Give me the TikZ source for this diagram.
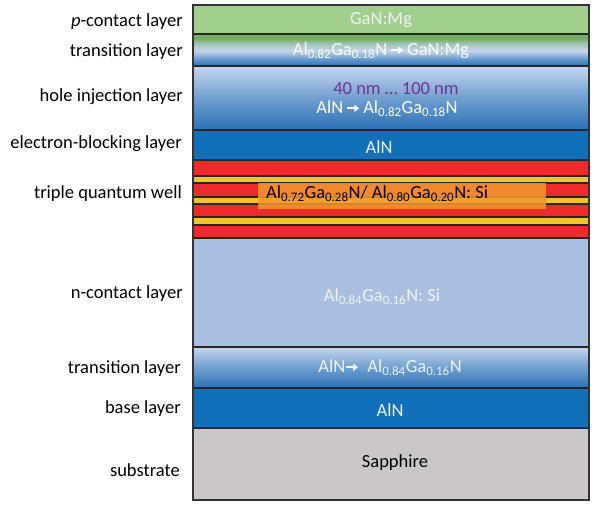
\documentclass[tikz,border=0pt]{standalone}
\usepackage{fontspec}
\setmainfont{Carlito}
\usetikzlibrary{arrows.meta}
\definecolor{gGreen}{HTML}{A1CF8D}
\definecolor{gGreenD}{HTML}{72AE62}
\definecolor{bDark}{HTML}{1170BA}
\definecolor{bMid}{HTML}{2A71B6}
\definecolor{bLight}{HTML}{C6D6EE}
\definecolor{nBlue}{HTML}{A8BFE0}
\definecolor{qRed}{HTML}{EE2B2B}
\definecolor{qYel}{HTML}{FBC12C}
\definecolor{qOra}{HTML}{F39A2E}
\definecolor{subGray}{HTML}{C9C7C8}
\definecolor{txPurple}{HTML}{6E3396}
\definecolor{txLight}{HTML}{EEF3F8}
\pgfdeclareverticalshading{transTop}{100bp}{color(0bp)=(bMid); color(25bp)=(bMid); color(36bp)=(bMid!60!bLight); color(49bp)=(bLight); color(60bp)=(gGreenD!45!bLight); color(68bp)=(gGreenD); color(100bp)=(gGreenD)}
\pgfdeclareverticalshading{transBlue}{100bp}{color(0bp)=(bMid); color(25bp)=(bMid); color(50bp)=(bLight!45!bMid); color(75bp)=(bLight); color(100bp)=(bLight)}
\newcommand{\lsub}[1]{\textsubscript{#1}}
\newcommand{\rarr}[1]{\tikz[baseline=0pt]\draw[#1,line width=1.8pt,-{Triangle[length=5pt,width=7pt]}](0pt,5.6pt)--(12pt,5.6pt);}
\tikzset{
  lab/.style={anchor=east,font=\fontsize{18.5}{20}\selectfont,text=black,inner sep=0pt},
  ltext/.style={font=\fontsize{18.5}{20}\selectfont,inner sep=0pt},
  sep/.style={line width=1.2pt,draw=black!85}
}
\begin{document}
\begin{tikzpicture}[x=1pt,y=-1pt]
\useasboundingbox (0,0) rectangle (599,510);
% layers
\fill[gGreen] (193,5) rectangle (589,34);
\shade[shading=transTop] (193,34) rectangle (589,66);
\shade[shading=transBlue] (193,66) rectangle (589,130);
\fill[bDark] (193,130) rectangle (589,160);
\fill[qRed] (193,160) rectangle (589,238);
\fill[qYel] (193,176) rectangle (589,183);
\fill[qYel] (193,197) rectangle (589,204);
\fill[qYel] (193,217) rectangle (589,225);
\fill[nBlue] (193,238) rectangle (589,347);
\shade[shading=transBlue] (193,347) rectangle (589,388);
\fill[bDark] (193,388) rectangle (589,428);
\fill[subGray] (193,428) rectangle (589,500);
% separators
\foreach \yy in {34,66,130,160,176,183,197,204,217,225,238,347,388,428}
  \draw[sep] (193,\yy) -- (589,\yy);
% overlay box in QW
\fill[qOra,opacity=0.85] (258,183) rectangle (546,209);
\draw[line width=1.2pt,draw=black!80] (193,5) rectangle (589,500);
% texts in layers
\node[ltext,text=txLight] (t1) at (381,20) {GaN:Mg};
\node[ltext,text=white] (t2) at (381,51) {Al\lsub{0.82}Ga\lsub{0.18}N\,\rarr{white}\,GaN:Mg};
\node[ltext,text=txPurple] (t3a) at (396,89) {40 nm … 100 nm};
\node[ltext,text=white] (t3b) at (387,109) {AlN\,\rarr{white}\,Al\lsub{0.82}Ga\lsub{0.18}N};
\node[ltext,text=txLight] (t4) at (379,147) {AlN};
\node[ltext,text=black,anchor=west] (t5) at (266,194) {Al\lsub{0.72}Ga\lsub{0.28}N/ Al\lsub{0.80}Ga\lsub{0.20}N: Si};
\node[ltext,text=txLight] (t6) at (382,297) {Al\lsub{0.84}Ga\lsub{0.16}N: Si};
\node[ltext,text=txLight] (t7) at (390,368) {AlN\rarr{txLight}\ \ Al\lsub{0.84}Ga\lsub{0.16}N};
\node[ltext,text=txLight] (t8) at (390,410) {AlN};
\node[ltext,text=black] (t9) at (395,463) {Sapphire};
% left labels
\node[lab] (l1) at (183,22) {\textit{p}-contact layer};
\node[lab] (l2) at (183,52) {transition layer};
\node[lab] (l3) at (183,97) {hole injection layer};
\node[lab] (l4) at (182,144) {electron-blocking layer};
\node[lab] (l5) at (182,194) {triple quantum well};
\node[lab] (l6) at (183,294) {n-contact layer};
\node[lab] (l7) at (181,369) {transition layer};
\node[lab] (l8) at (181,409) {base layer};
\node[lab] (l9) at (180,470) {substrate};
\end{tikzpicture}
\end{document}
